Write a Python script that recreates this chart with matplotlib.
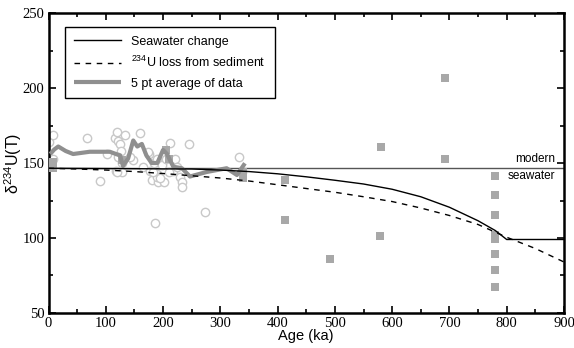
import matplotlib
matplotlib.use('Agg')
import matplotlib.pyplot as plt
from matplotlib.ticker import MultipleLocator
import numpy as np

plt.rcParams['font.family'] = 'Liberation Serif'
plt.rcParams['mathtext.fontset'] = 'custom'
plt.rcParams['mathtext.rm'] = 'Liberation Sans'

# data
circ_age = [0, 8, 0, 7, 68, 90, 103, 116, 120, 122, 125, 126, 118, 129, 133, 122,
            128, 147, 160, 165, 176, 178, 180, 184, 189, 189, 192, 189, 202, 199,
            206, 213, 217, 221, 225, 230, 233, 233, 245, 333, 337, 273, 186, 142,
            174, 183, 119, 210, 195]
circ_val = [164, 168.7, 150.5, 152.5, 166.5, 138, 156, 167, 171, 165, 163, 158,
            145, 144, 168.7, 154, 150.2, 152, 169.8, 147.5, 156, 145, 138.7, 149.8,
            152.5, 143, 137.5, 141, 137.5, 148.7, 152.5, 163.5, 145, 152.5, 147.5,
            141, 137.5, 134, 163, 154, 144, 117.5, 110.2, 154, 157.5, 144, 144,
            144, 140]

sq_age = [8, 8, 128, 205, 210, 340, 340, 413, 413, 491, 578, 580, 693, 693,
          779, 779, 779, 779, 779, 779, 779, 779]
sq_val = [151, 147, 152, 159, 153, 144, 140, 138.6, 112, 86, 101, 161, 206.5, 153,
          141.3, 128.5, 115.3, 102, 99.5, 89, 78.7, 67.3]

avg_age = [3, 10, 17, 30, 43, 72, 107, 125, 130, 139, 148, 155, 163, 171, 180,
           190, 200, 207, 212, 218, 233, 247, 276, 311, 329, 343]
avg_val = [156, 159, 161, 158, 156, 157.5, 157.5, 155, 148, 153, 165, 161, 162.7,
           155, 150, 150, 158.7, 156, 152, 147.5, 146.5, 141, 144, 146.5, 142, 149.8]

sw_age = [0, 250, 300, 350, 400, 450, 500, 550, 600, 650, 700, 750, 780, 800, 900]
sw_val = [146.5, 146, 145.3, 144.3, 142.8, 140.8, 138.5, 136, 132.5, 127.5, 120.5,
          111.5, 105, 99, 99]

loss_age = [0, 50, 100, 150, 200, 250, 300, 350, 400, 450, 500, 550, 600, 650, 700,
            750, 800, 850, 900]
loss_val = [146.5, 146, 145.3, 144.3, 143, 141.5, 140, 138, 135.5, 133, 130.5, 127.5,
            124.3, 120, 115, 109, 100.5, 93, 84]

modern = 146.7

fig = plt.figure(figsize=(5.74, 3.48), dpi=100)
ax = fig.add_axes([0.0845, 0.1006, 0.898, 0.862])

ax.axhline(modern, color='#555555', lw=1.0, zorder=1)
ax.scatter(circ_age, circ_val, s=36, facecolors='white', edgecolors='#c8c8c8',
           linewidths=1.0, zorder=2)
ax.scatter(sq_age, sq_val, s=32, marker='s', color='#a8a8a8', linewidths=0, zorder=3)
ax.plot(avg_age, avg_val, color='#8f8f8f', lw=3, solid_capstyle='butt',
        label='5 pt average of data', zorder=4)
ax.plot(sw_age, sw_val, color='black', lw=1.0, label='Seawater change', zorder=5)
ax.plot(loss_age, loss_val, color='black', lw=1.0, ls=(0, (4, 4)),
        label='$^{234}$U loss from sediment', zorder=5)

ax.text(885, 152.5, 'modern', ha='right', va='center', fontsize=8.5,
        family='Liberation Sans')
ax.text(885, 141.5, 'seawater', ha='right', va='center', fontsize=8.5,
        family='Liberation Sans')

ax.set_xlim(0, 900)
ax.set_ylim(50, 250)
ax.xaxis.set_major_locator(MultipleLocator(100))
ax.xaxis.set_minor_locator(MultipleLocator(50))
ax.yaxis.set_major_locator(MultipleLocator(50))
ax.yaxis.set_minor_locator(MultipleLocator(25))
ax.tick_params(which='both', direction='in', top=True, right=True, width=1.2)
ax.tick_params(which='major', length=5, labelsize=10.5, pad=3)
ax.tick_params(which='minor', length=3)
for sp in ax.spines.values():
    sp.set_linewidth(1.8)

ax.set_xlabel('Age (ka)', family='Liberation Sans', fontsize=10.5, labelpad=-1)
ax.set_ylabel('δ$^{234}$U(T)', family='Liberation Sans', fontsize=11.5, labelpad=-1)

handles, labels = ax.get_legend_handles_labels()
order = [1, 2, 0]
leg = ax.legend([handles[i] for i in order], [labels[i] for i in order],
                loc='upper left', bbox_to_anchor=(0.02, 0.975), fancybox=False,
                edgecolor='black', framealpha=1, prop={'family': 'Liberation Sans', 'size': 9},
                handlelength=3.8, borderpad=0.7, labelspacing=0.6)
leg.get_frame().set_linewidth(1.0)

fig.savefig('out.png', dpi=100)
